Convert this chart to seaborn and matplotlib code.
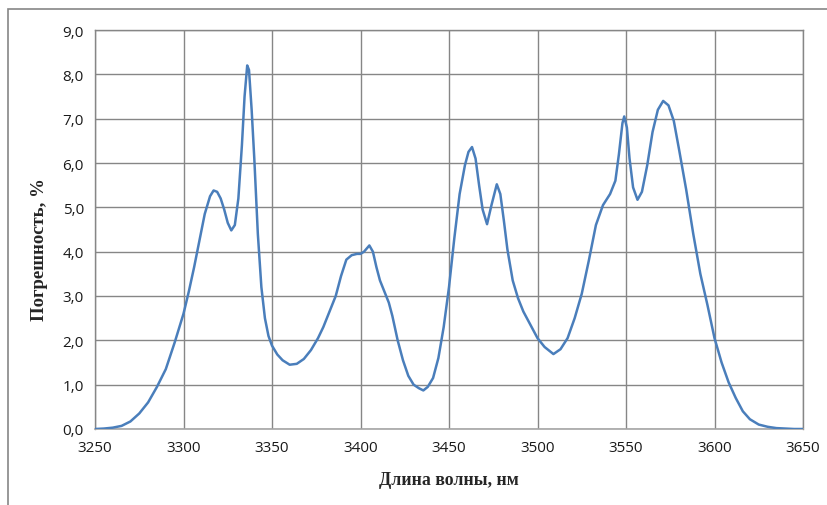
import matplotlib
matplotlib.use("Agg")
import matplotlib.pyplot as plt
import seaborn as sns
import pandas as pd
from matplotlib.patches import Rectangle
from matplotlib.ticker import FuncFormatter, MultipleLocator

wavelength = [3250, 3255, 3260, 3265, 3270, 3275, 3280, 3285, 3290, 3295,
              3300, 3303, 3306, 3309, 3312, 3315, 3317, 3319, 3321, 3323,
              3325, 3327, 3329, 3331, 3333, 3334.5, 3336, 3337, 3338.5, 3340, 3342,
              3344, 3346, 3348, 3350, 3353, 3356, 3360, 3364, 3368, 3372,
              3376, 3379, 3382, 3386, 3389, 3392, 3395, 3398, 3400, 3402,
              3405, 3407, 3409, 3411, 3413, 3416, 3418, 3421, 3424, 3427,
              3430, 3433, 3435.5, 3438, 3441, 3444, 3447, 3450, 3453, 3456,
              3459, 3461, 3463, 3465, 3467, 3469, 3471.5, 3474, 3477, 3479,
              3481, 3483, 3486, 3489, 3492, 3496, 3500, 3504, 3509, 3513,
              3517, 3521, 3525, 3529, 3533, 3537, 3541, 3544, 3546, 3548,
              3549, 3550.5, 3552, 3554, 3556.5, 3559, 3562, 3565, 3568, 3571,
              3574, 3577, 3580, 3584, 3588, 3592, 3596, 3600, 3604, 3608,
              3612, 3616, 3620, 3625, 3630, 3635, 3640, 3645, 3650]
error_pct = [0.00, 0.01, 0.03, 0.07, 0.17, 0.35, 0.60, 0.95, 1.35, 1.95,
             2.60, 3.10, 3.65, 4.25, 4.85, 5.25, 5.38, 5.35, 5.20, 4.95,
             4.65, 4.48, 4.60, 5.20, 6.40, 7.50, 8.20, 8.10, 7.20, 6.10, 4.40,
             3.20, 2.50, 2.10, 1.88, 1.68, 1.55, 1.45, 1.47, 1.58, 1.78,
             2.05, 2.30, 2.60, 3.00, 3.45, 3.82, 3.92, 3.95, 3.95, 4.00,
             4.14, 4.00, 3.65, 3.35, 3.15, 2.85, 2.55, 2.00, 1.55, 1.20,
             1.00, 0.92, 0.87, 0.95, 1.15, 1.60, 2.30, 3.20, 4.30, 5.30,
             5.95, 6.25, 6.36, 6.10, 5.50, 4.95, 4.62, 5.05, 5.52, 5.30,
             4.70, 4.05, 3.35, 2.95, 2.65, 2.35, 2.05, 1.85, 1.69, 1.80,
             2.05, 2.50, 3.05, 3.80, 4.60, 5.05, 5.30, 5.60, 6.20, 6.90,
             7.05, 6.80, 6.10, 5.45, 5.17, 5.35, 5.95, 6.70, 7.20, 7.40,
             7.30, 6.95, 6.30, 5.40, 4.40, 3.50, 2.80, 2.05, 1.50, 1.05,
             0.70, 0.40, 0.22, 0.10, 0.05, 0.02, 0.01, 0.00, 0.00]

x_ticks = [3250, 3300, 3350, 3400, 3450, 3500, 3550, 3600, 3650]
x_label = "Длина волны, нм"
y_label = "Погрешность, %"

df = pd.DataFrame({"x": wavelength, "y": error_pct})

sns.set_style("white")
fig = plt.figure(figsize=(8.28, 5.06), dpi=100)
ax = fig.add_axes([95/828, 1 - 430/506, (803 - 95)/828, (430 - 31)/506])

sns.lineplot(data=df, x="x", y="y", ax=ax, color="#4A7EBB", linewidth=1.8,
             estimator=None, sort=False, zorder=3)

ax.set_xlim(3250, 3650)
ax.set_ylim(0, 9)
ax.set_xticks(x_ticks)
ax.yaxis.set_major_locator(MultipleLocator(1))
ax.yaxis.set_major_formatter(FuncFormatter(lambda v, p: f"{v:.1f}".replace(".", ",")))
ax.grid(True, color="#868686", linewidth=1.0)
ax.set_axisbelow(True)
for side in ["left", "right", "top"]:
    ax.spines[side].set_color("#868686")
    ax.spines[side].set_linewidth(1.0)
ax.spines["bottom"].set_color("#A6A6A6")
ax.spines["bottom"].set_linewidth(1.2)
ax.tick_params(axis="both", length=0, labelsize=11, colors="#1a1a1a", pad=8)
for lab in ax.get_xticklabels() + ax.get_yticklabels():
    lab.set_fontfamily("Open Sans")

ax.set_xlabel("")
ax.set_ylabel("")
fig.text(449/828, 1 - 481/506, x_label, ha="center", va="center",
         fontfamily="Liberation Serif", fontweight="bold", fontsize=12.8)
fig.text(40/828, 1 - 250/506, y_label, ha="center", va="center", rotation=90,
         fontfamily="Liberation Serif", fontweight="bold", fontsize=13.5)

fig.patches.append(Rectangle((8/828, -0.1), 1.2, 1 - 10/506 + 0.1,
                             transform=fig.transFigure, fill=False,
                             edgecolor="#868686", linewidth=1.2))

fig.savefig("out.png", dpi=100)
